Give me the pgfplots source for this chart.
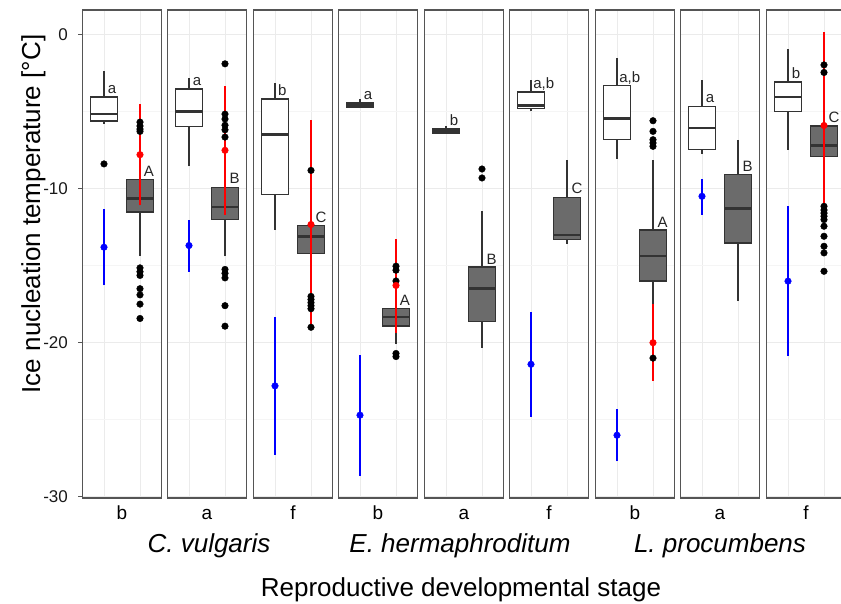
\documentclass[border=0pt]{standalone}
\usepackage{pgfplots}
\pgfplotsset{compat=1.18}
\usepackage{fontspec}
\setmainfont{Liberation Sans}
\definecolor{gridmaj}{HTML}{EBEBEB}
\definecolor{gridmin}{HTML}{F5F5F5}
\definecolor{bordercol}{HTML}{555555}
\definecolor{boxcol}{HTML}{333333}
\definecolor{darkfill}{HTML}{6B6B6B}
\definecolor{pblue}{HTML}{0000FF}
\definecolor{pred}{HTML}{FF0000}
\tikzset{lbl/.style={anchor=base west, inner sep=0pt, font=\fontsize{15}{18}\selectfont, text=black!85}}
\pgfplotsset{
  panel/.style={scale only axis, width=79.2pt, height=488pt, anchor=south west,
    xmin=0.4, xmax=2.6, ymin=-30.07, ymax=1.57,
    xtick={1,2}, xticklabels={}, ytick={-30,-20,-10,0}, yticklabels={},
    minor ytick={-25,-15,-5},
    grid=both, major grid style={color=gridmaj, line width=1pt},
    minor grid style={color=gridmin, line width=0.6pt},
    axis line style={color=bordercol, line width=1.3pt},
    major tick length=0pt, minor tick length=0pt, xtick style={draw=none},
    xlabel style={at={(axis description cs:0.5,0)}, anchor=base, yshift=-22pt,
      font=\fontsize{19}{22}\selectfont, inner sep=0pt},
  },
  whisk/.style={draw=boxcol, line width=1.7pt, no marks},
  boxw/.style={draw=boxcol, fill=white, line width=1.5pt, no marks, line cap=rect, line join=miter},
  boxd/.style={draw=boxcol, fill=darkfill, line width=1.5pt, no marks, line cap=rect, line join=miter},
  medl/.style={draw=boxcol, line width=2.6pt, no marks},
  outl/.style={only marks, mark=*, mark size=3.3pt, color=black},
  eblue/.style={pblue, line width=2pt, no marks},
  mblue/.style={only marks, mark=*, mark size=3.3pt, color=pblue},
  ered/.style={pred, line width=2pt, no marks},
  mred/.style={only marks, mark=*, mark size=3.3pt, color=pred},
}
\begin{document}
\begin{tikzpicture}
\useasboundingbox (0pt,0pt) rectangle (841pt,604pt);
% ---------------- Panel 1: C. vulgaris b
\begin{axis}[panel, at={(82.4pt,106pt)}, xlabel={b},
  yticklabels={-30,-20,-10,0}, tick align=outside, ytick pos=left,
  major tick length=4pt, ytick style={draw=bordercol, line width=1pt},
  yticklabel style={font=\fontsize{17}{20}\selectfont, text=black!90, xshift=-7pt}]
\addplot[whisk] coordinates {(1,-4.08) (1,-2.36)};
\addplot[whisk] coordinates {(1,-5.8) (1,-5.63)};
\addplot[boxw] coordinates {(0.625,-5.63) (1.375,-5.63) (1.375,-4.08) (0.625,-4.08) (0.625,-5.63)};
\addplot[medl] coordinates {(0.625,-5.18) (1.375,-5.18)};
\addplot[outl] coordinates {(1,-8.41)};
\addplot[whisk] coordinates {(2,-9.43) (2,-7.6)};
\addplot[whisk] coordinates {(2,-14.39) (2,-11.52)};
\addplot[boxd] coordinates {(1.625,-11.52) (2.375,-11.52) (2.375,-9.43) (1.625,-9.43) (1.625,-11.52)};
\addplot[medl] coordinates {(1.625,-10.64) (2.375,-10.64)};
\addplot[outl] coordinates {(2,-5.7) (2,-5.95) (2,-6.15) (2,-6.3) (2,-15.15) (2,-15.4) (2,-15.64) (2,-16.5) (2,-16.9) (2,-17.5) (2,-18.43)};
\addplot[eblue] coordinates {(1,-16.29) (1,-11.33)};
\addplot[mblue] coordinates {(1,-13.81)};
\addplot[ered] coordinates {(2,-11.09) (2,-4.53)};
\addplot[mred] coordinates {(2,-7.81)};
\node[lbl] at (axis cs:1.1,-3.86) {a};
\node[lbl] at (axis cs:2.1,-9.23) {A};
\end{axis}
% ---------------- Panel 2: C. vulgaris a
\begin{axis}[panel, at={(167.4pt,106pt)}, xlabel={a}]
\addplot[whisk] coordinates {(1,-3.56) (1,-2.85)};
\addplot[whisk] coordinates {(1,-8.57) (1,-6.0)};
\addplot[boxw] coordinates {(0.625,-6.0) (1.375,-6.0) (1.375,-3.56) (0.625,-3.56) (0.625,-6.0)};
\addplot[medl] coordinates {(0.625,-5.01) (1.375,-5.01)};
\addplot[whisk] coordinates {(2,-9.93) (2,-8.0)};
\addplot[whisk] coordinates {(2,-14.4) (2,-12.02)};
\addplot[boxd] coordinates {(1.625,-12.02) (2.375,-12.02) (2.375,-9.93) (1.625,-9.93) (1.625,-12.02)};
\addplot[medl] coordinates {(1.625,-11.2) (2.375,-11.2)};
\addplot[outl] coordinates {(2,-1.92) (2,-5.18) (2,-5.5) (2,-5.9) (2,-6.2) (2,-6.67) (2,-15.25) (2,-15.5) (2,-15.8) (2,-17.6) (2,-18.93)};
\addplot[eblue] coordinates {(1,-15.4) (1,-12.02)};
\addplot[mblue] coordinates {(1,-13.7)};
\addplot[ered] coordinates {(2,-11.7) (2,-3.35)};
\addplot[mred] coordinates {(2,-7.53)};
\node[lbl] at (axis cs:1.1,-3.34) {a};
\node[lbl] at (axis cs:2.12,-9.71) {B};
\end{axis}
% ---------------- Panel 3: C. vulgaris f
\begin{axis}[panel, at={(253.4pt,106pt)}, xlabel={f}]
\addplot[whisk] coordinates {(1,-4.21) (1,-3.17)};
\addplot[whisk] coordinates {(1,-12.67) (1,-10.4)};
\addplot[boxw] coordinates {(0.625,-10.4) (1.375,-10.4) (1.375,-4.21) (0.625,-4.21) (0.625,-10.4)};
\addplot[medl] coordinates {(0.625,-6.52) (1.375,-6.52)};
\addplot[whisk] coordinates {(2,-12.41) (2,-11.0)};
\addplot[whisk] coordinates {(2,-15.5) (2,-14.22)};
\addplot[boxd] coordinates {(1.625,-14.22) (2.375,-14.22) (2.375,-12.41) (1.625,-12.41) (1.625,-14.22)};
\addplot[medl] coordinates {(1.625,-13.1) (2.375,-13.1)};
\addplot[outl] coordinates {(2,-8.83) (2,-17.0) (2,-17.2) (2,-17.4) (2,-17.6) (2,-17.8) (2,-19.0)};
\addplot[eblue] coordinates {(1,-27.27) (1,-18.34)};
\addplot[mblue] coordinates {(1,-22.8)};
\addplot[ered] coordinates {(2,-19.0) (2,-5.55)};
\addplot[mred] coordinates {(2,-12.34)};
\node[lbl] at (axis cs:1.08,-4.0) {b};
\node[lbl] at (axis cs:2.12,-12.2) {C};
\end{axis}
% ---------------- Panel 4: E. hermaphroditum b
\begin{axis}[panel, at={(338.4pt,106pt)}, xlabel={b}]
\addplot[whisk] coordinates {(1,-4.47) (1,-4.2)};
\addplot[whisk] coordinates {(1,-4.8) (1,-4.72)};
\addplot[boxw] coordinates {(0.625,-4.72) (1.375,-4.72) (1.375,-4.47) (0.625,-4.47) (0.625,-4.72)};
\addplot[medl] coordinates {(0.625,-4.6) (1.375,-4.6)};
\addplot[whisk] coordinates {(2,-17.8) (2,-16.6)};
\addplot[whisk] coordinates {(2,-20.1) (2,-18.93)};
\addplot[boxd] coordinates {(1.625,-18.93) (2.375,-18.93) (2.375,-17.8) (1.625,-17.8) (1.625,-18.93)};
\addplot[medl] coordinates {(1.625,-18.34) (2.375,-18.34)};
\addplot[outl] coordinates {(2,-15.04) (2,-15.3) (2,-16.0) (2,-20.7) (2,-20.9)};
\addplot[eblue] coordinates {(1,-28.63) (1,-20.82)};
\addplot[mblue] coordinates {(1,-24.7)};
\addplot[ered] coordinates {(2,-19.35) (2,-13.25)};
\addplot[mred] coordinates {(2,-16.29)};
\node[lbl] at (axis cs:1.1,-4.25) {a};
\node[lbl] at (axis cs:2.1,-17.6) {A};
\end{axis}
% ---------------- Panel 5: E. hermaphroditum a
\begin{axis}[panel, at={(424.4pt,106pt)}, xlabel={a}]
\addplot[whisk] coordinates {(1,-6.13) (1,-5.94)};
\addplot[boxw] coordinates {(0.625,-6.41) (1.375,-6.41) (1.375,-6.13) (0.625,-6.13) (0.625,-6.41)};
\addplot[medl] coordinates {(0.625,-6.3) (1.375,-6.3)};
\addplot[whisk] coordinates {(2,-15.1) (2,-11.44)};
\addplot[whisk] coordinates {(2,-20.32) (2,-18.64)};
\addplot[boxd] coordinates {(1.625,-18.64) (2.375,-18.64) (2.375,-15.1) (1.625,-15.1) (1.625,-18.64)};
\addplot[medl] coordinates {(1.625,-16.49) (2.375,-16.49)};
\addplot[outl] coordinates {(2,-8.74) (2,-9.32)};
\node[lbl] at (axis cs:1.1,-5.9) {b};
\node[lbl] at (axis cs:2.12,-14.9) {B};
\end{axis}
% ---------------- Panel 6: E. hermaphroditum f
\begin{axis}[panel, at={(509.4pt,106pt)}, xlabel={f}]
\addplot[whisk] coordinates {(1,-3.75) (1,-2.96)};
\addplot[whisk] coordinates {(1,-5.0) (1,-4.83)};
\addplot[boxw] coordinates {(0.625,-4.83) (1.375,-4.83) (1.375,-3.75) (0.625,-3.75) (0.625,-4.83)};
\addplot[medl] coordinates {(0.625,-4.64) (1.375,-4.64)};
\addplot[whisk] coordinates {(2,-10.58) (2,-8.14)};
\addplot[whisk] coordinates {(2,-13.59) (2,-13.31)};
\addplot[boxd] coordinates {(1.625,-13.31) (2.375,-13.31) (2.375,-10.58) (1.625,-10.58) (1.625,-13.31)};
\addplot[medl] coordinates {(1.625,-13.03) (2.375,-13.03)};
\addplot[eblue] coordinates {(1,-24.79) (1,-18.02)};
\addplot[mblue] coordinates {(1,-21.4)};
\node[lbl] at (axis cs:1.06,-3.5) {a,b};
\node[lbl] at (axis cs:2.12,-10.35) {C};
\end{axis}
% ---------------- Panel 7: L. procumbens b
\begin{axis}[panel, at={(595.4pt,106pt)}, xlabel={b}]
\addplot[whisk] coordinates {(1,-3.33) (1,-1.55)};
\addplot[whisk] coordinates {(1,-8.09) (1,-6.84)};
\addplot[boxw] coordinates {(0.625,-6.84) (1.375,-6.84) (1.375,-3.33) (0.625,-3.33) (0.625,-6.84)};
\addplot[medl] coordinates {(0.625,-5.48) (1.375,-5.48)};
\addplot[whisk] coordinates {(2,-12.71) (2,-8.14)};
\addplot[whisk] coordinates {(2,-17.52) (2,-16.01)};
\addplot[boxd] coordinates {(1.625,-16.01) (2.375,-16.01) (2.375,-12.71) (1.625,-12.71) (1.625,-16.01)};
\addplot[medl] coordinates {(1.625,-14.39) (2.375,-14.39)};
\addplot[outl] coordinates {(2,-5.61) (2,-6.3) (2,-6.84) (2,-7.05) (2,-7.27) (2,-21.0)};
\addplot[eblue] coordinates {(1,-27.7) (1,-24.32)};
\addplot[mblue] coordinates {(1,-26.0)};
\addplot[ered] coordinates {(2,-22.49) (2,-17.52)};
\addplot[mred] coordinates {(2,-20.0)};
\node[lbl] at (axis cs:1.06,-3.1) {a,b};
\node[lbl] at (axis cs:2.12,-12.5) {A};
\end{axis}
% ---------------- Panel 8: L. procumbens a
\begin{axis}[panel, at={(680.4pt,106pt)}, xlabel={a}]
\addplot[whisk] coordinates {(1,-4.69) (1,-2.96)};
\addplot[whisk] coordinates {(1,-7.77) (1,-7.49)};
\addplot[boxw] coordinates {(0.625,-7.49) (1.375,-7.49) (1.375,-4.69) (0.625,-4.69) (0.625,-7.49)};
\addplot[medl] coordinates {(0.625,-6.08) (1.375,-6.08)};
\addplot[whisk] coordinates {(2,-9.11) (2,-6.84)};
\addplot[whisk] coordinates {(2,-17.3) (2,-13.53)};
\addplot[boxd] coordinates {(1.625,-13.53) (2.375,-13.53) (2.375,-9.11) (1.625,-9.11) (1.625,-13.53)};
\addplot[medl] coordinates {(1.625,-11.3) (2.375,-11.3)};
\addplot[eblue] coordinates {(1,-11.7) (1,-9.37)};
\addplot[mblue] coordinates {(1,-10.51)};
\node[lbl] at (axis cs:1.1,-4.45) {a};
\node[lbl] at (axis cs:2.12,-8.9) {B};
\end{axis}
% ---------------- Panel 9: L. procumbens f
\begin{axis}[panel, at={(766.4pt,106pt)}, xlabel={f}]
\addplot[whisk] coordinates {(1,-3.11) (1,-0.97)};
\addplot[whisk] coordinates {(1,-7.49) (1,-5.01)};
\addplot[boxw] coordinates {(0.625,-5.01) (1.375,-5.01) (1.375,-3.11) (0.625,-3.11) (0.625,-5.01)};
\addplot[medl] coordinates {(0.625,-4.08) (1.375,-4.08)};
\addplot[whisk] coordinates {(2,-5.94) (2,-4.0)};
\addplot[whisk] coordinates {(2,-10.8) (2,-7.92)};
\addplot[boxd] coordinates {(1.625,-7.92) (2.375,-7.92) (2.375,-5.94) (1.625,-5.94) (1.625,-7.92)};
\addplot[medl] coordinates {(1.625,-7.21) (2.375,-7.21)};
\addplot[outl] coordinates {(2,-1.99) (2,-2.48) (2,-11.16) (2,-11.4) (2,-11.6) (2,-11.8) (2,-12.02) (2,-12.45) (2,-13.1) (2,-13.75) (2,-14.18) (2,-15.37)};
\addplot[eblue] coordinates {(1,-20.87) (1,-11.16)};
\addplot[mblue] coordinates {(1,-16.01)};
\addplot[ered] coordinates {(2,-11.9) (2,0.13)};
\addplot[mred] coordinates {(2,-5.92)};
\node[lbl] at (axis cs:1.1,-2.85) {b};
\node[lbl] at (axis cs:2.12,-5.7) {C};
\end{axis}
% ---------------- outer labels
\node[anchor=base, inner sep=0pt, font=\fontsize{26}{30}\selectfont\itshape] at (209pt,51pt) {C. vulgaris};
\node[anchor=base, inner sep=0pt, font=\fontsize{26}{30}\selectfont\itshape] at (460pt,51pt) {E. hermaphroditum};
\node[anchor=base, inner sep=0pt, font=\fontsize{26}{30}\selectfont\itshape] at (720pt,51pt) {L. procumbens};
\node[anchor=base, inner sep=0pt, font=\fontsize{26}{30}\selectfont] at (461pt,7pt) {Reproductive developmental stage};
\node[anchor=base, rotate=90, inner sep=0pt, font=\fontsize{26}{30}\selectfont] at (40pt,390pt) {Ice nucleation temperature [°C]};
\end{tikzpicture}
\end{document}
